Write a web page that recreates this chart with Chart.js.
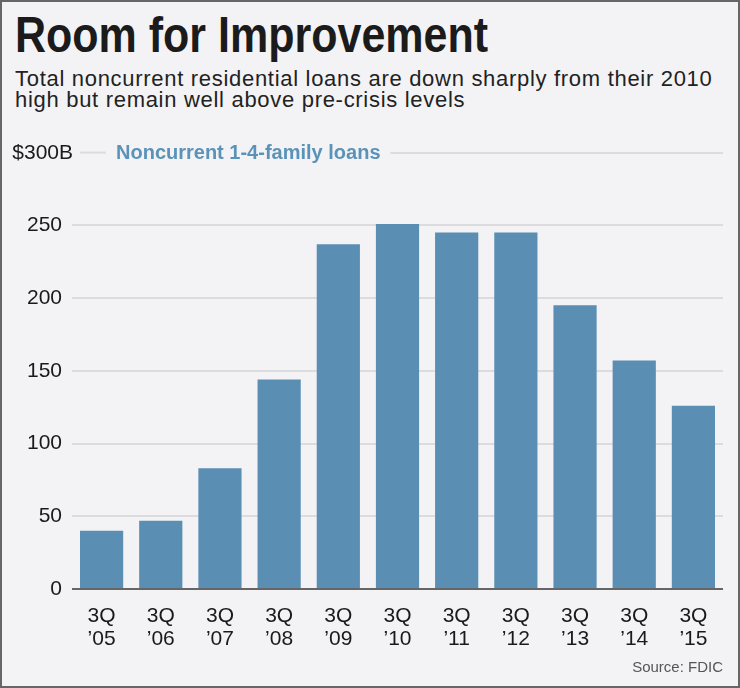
<!DOCTYPE html>
<html>
<head>
<meta charset="utf-8">
<script src="https://cdn.jsdelivr.net/npm/chart.js@4.4.1/dist/chart.umd.min.js"></script>
<style>
  html, body { margin: 0; padding: 0; }
  body {
    width: 740px; height: 688px; position: relative; overflow: hidden;
    background: #f3f3f5; box-sizing: border-box; border: 2px solid #666;
  }
  #title {
    position: absolute; left: 13px; top: 8px; margin: 0;
    font-family: 'Liberation Sans', Arial, sans-serif;
    font-weight: bold; font-size: 50px; line-height: 50px; color: #1b1b1b;
    transform-origin: left top; transform: scaleX(0.86); white-space: nowrap;
  }
  #subtitle {
    position: absolute; left: 13px; top: 66px; margin: 0; white-space: nowrap;
    font-family: 'Liberation Sans', Arial, sans-serif; font-size: 22px;
    line-height: 21px; letter-spacing: 0.7px; color: #222;
  }
  #source {
    position: absolute; right: 15px; top: 656px;
    font-family: 'Liberation Sans', Arial, sans-serif;
    font-size: 15px; color: #555;
  }
  #wrap { position: absolute; left: -2px; top: 128px; width: 740px; height: 530px; }
</style>
</head>
<body>
<h1 id="title">Room for Improvement</h1>
<p id="subtitle">Total noncurrent residential loans are down sharply from their 2010<br>high but remain well above pre-crisis levels</p>
<div id="wrap"><canvas id="loans"></canvas></div>
<div id="source">Source: FDIC</div>
<script>
const quarters = ['3Q', '3Q', '3Q', '3Q', '3Q', '3Q', '3Q', '3Q', '3Q', '3Q', '3Q'];
const years = ['’05', '’06', '’07', '’08', '’09', '’10', '’11', '’12', '’13', '’14', '’15'];
const noncurrent = [40, 47, 83, 144, 237, 251, 245, 245, 195, 157, 126];
const seriesName = 'Noncurrent 1-4-family loans';
const topLabel = '$300B';

const gridColor = '#dcdcdf';
const barColor = '#5a8fb3';
const tickFont = { family: 'Liberation Sans', size: 21 };

// top tick and series name sit on the $300B line, like in the print graphic
const lineLabel = {
    id: 'lineLabel',
    afterDraw(chart) {
        const ctx = chart.ctx;
        const area = chart.chartArea;
        const y = chart.scales.y.getPixelForValue(300);
        const tx = 116;
        ctx.save();
        ctx.font = 'bold 20px "Liberation Sans", Arial, sans-serif';
        const w = ctx.measureText(seriesName).width;
        ctx.fillStyle = '#f3f3f5';
        ctx.fillRect(area.left - 2, y - 3, tx + w + 12 - area.left, 6);
        ctx.strokeStyle = gridColor;
        ctx.lineWidth = 2;
        ctx.beginPath();
        ctx.moveTo(area.left + 8, y);
        ctx.lineTo(tx - 10, y);
        ctx.stroke();
        ctx.textBaseline = 'middle';
        ctx.fillStyle = '#5b93b8';
        ctx.fillText(seriesName, tx, y + 1);
        ctx.fillStyle = '#1a1a1a';
        ctx.font = '21px "Liberation Sans", Arial, sans-serif';
        ctx.textAlign = 'right';
        ctx.fillText(topLabel, area.left + 1, y + 1);
        ctx.restore();
    }
};

new Chart(document.getElementById('loans'), {
    type: 'bar',
    data: {
        labels: quarters.map((q, i) => [q, years[i]]),
        datasets: [{
            label: seriesName,
            data: noncurrent,
            backgroundColor: barColor,
            borderWidth: 0,
            categoryPercentage: 1,
            barPercentage: 0.73
        }]
    },
    options: {
        responsive: true,
        maintainAspectRatio: false,
        animation: false,
        layout: { padding: { top: 21, right: 17, bottom: 0, left: 0 } },
        scales: {
            x: {
                grid: { display: false },
                border: { display: false },
                afterFit: (s) => { s.height = 71; },
                ticks: {
                    color: '#1a1a1a',
                    padding: 8,
                    maxRotation: 0,
                    font: { family: 'Liberation Sans', size: 21, lineHeight: 1.08 }
                }
            },
            y: {
                min: 0,
                max: 300,
                afterFit: (s) => { s.width = 72; },
                border: { display: false },
                grid: {
                    drawTicks: false,
                    lineWidth: 2,
                    color: (c) => c.tick.value === 0 ? '#666' : gridColor
                },
                ticks: {
                    stepSize: 50,
                    padding: 10,
                    color: '#1a1a1a',
                    font: tickFont,
                    callback: (v) => v === 300 ? '' : v
                }
            }
        },
        plugins: {
            legend: { display: false },
            tooltip: { enabled: false }
        }
    },
    plugins: [lineLabel]
});
</script>
</body>
</html>
